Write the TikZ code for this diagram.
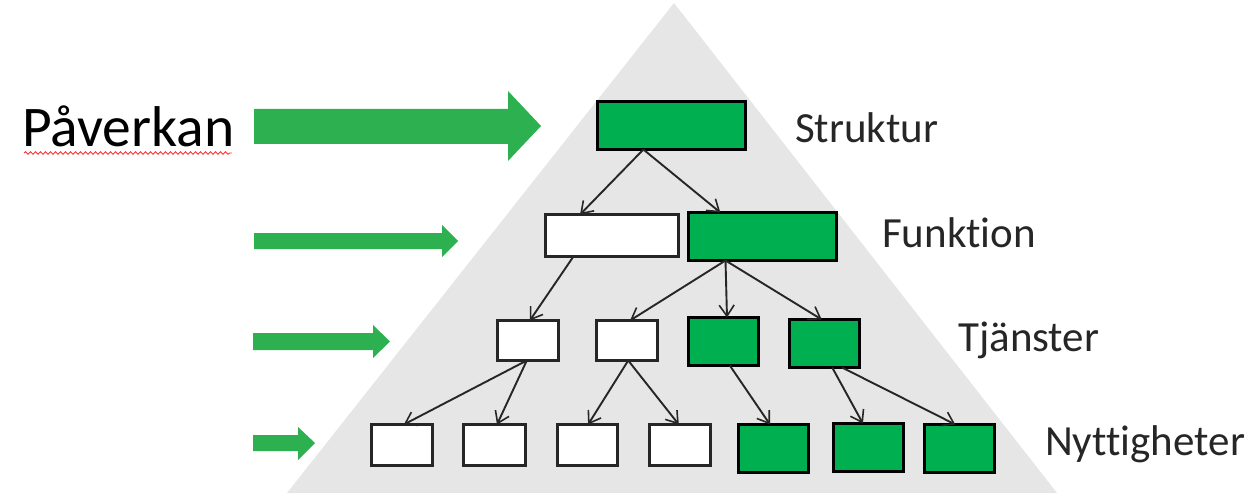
\documentclass[tikz,border=0pt]{standalone}
\usepackage{fontspec}
\setmainfont{Carlito}[Ligatures={NoCommon}]
\usetikzlibrary{arrows.meta,calc,decorations.pathmorphing}
\definecolor{pyramidgray}{HTML}{E7E6E6}
\definecolor{boxgreen}{HTML}{00B050}
\definecolor{arrowgreen}{RGB}{44,176,80}
\definecolor{inkgray}{HTML}{262626}
\tikzset{
  box/.style={rectangle, inner sep=0pt, outer sep=0pt},
  openbox/.style={box, draw=inkgray, line width=2.4pt, fill=white},
  greenbox/.style={box, draw=black, line width=3pt, fill=boxgreen},
  link/.style={draw=inkgray, line width=1.9pt, -{Straight Barb[length=11pt,width=15pt,line width=1.6pt]}},
  levellabel/.style={inner sep=0pt, anchor=base west, text=inkgray, font=\fontsize{43}{50}\selectfont},
  blockarrow/.style={fill=arrowgreen}
}
\begin{document}
\begin{tikzpicture}[x=1pt,y=-1pt]
\useasboundingbox (0,0) rectangle (1260,497);

% pyramid background
\fill[pyramidgray] (674,3) -- (1057,493) -- (287,493) -- cycle;

% heading with spell-check underline
\node[inner sep=0pt, anchor=base west, text=black, font=\fontsize{57.5}{64}\selectfont] (paverkan) at (22,147) {Påverkan};
\draw[red!80!white, line width=0.9pt, decorate, decoration={snake, segment length=5pt, amplitude=1.3pt}] (24,153) -- (232,153);

% influence arrows
\fill[blockarrow] (254,109) -- (508,109) -- (508,91) -- (541,126) -- (508,161) -- (508,144) -- (254,144) -- cycle;
\fill[blockarrow] (254,233) -- (442,233) -- (442,225) -- (458,241) -- (442,257) -- (442,249) -- (254,249) -- cycle;
\fill[blockarrow] (253,333) -- (373,333) -- (373,325) -- (390,341.5) -- (373,358) -- (373,350) -- (253,350) -- cycle;
\fill[blockarrow] (253,435) -- (298,435) -- (298,427) -- (315,443) -- (298,460) -- (298,451) -- (253,451) -- cycle;

% level 1
\node[greenbox, minimum width=148pt, minimum height=48pt] (s) at (671.5,125.5) {};
% level 2
\node[openbox, minimum width=133pt, minimum height=42pt] (f1) at (612,235.5) {};
\node[greenbox, minimum width=148pt, minimum height=48pt] (f2) at (762.5,236.5) {};
% level 3
\node[openbox, minimum width=61pt, minimum height=40pt] (t1) at (528,340.5) {};
\node[openbox, minimum width=61pt, minimum height=40pt] (t2) at (627,340.5) {};
\node[greenbox, minimum width=70pt, minimum height=48pt] (t3) at (723.5,341.5) {};
\node[greenbox, minimum width=70pt, minimum height=48pt] (t4) at (824.5,343.5) {};
% level 4
\node[openbox, minimum width=61pt, minimum height=41pt] (n1) at (402,445) {};
\node[openbox, minimum width=62pt, minimum height=41pt] (n2) at (494.5,445) {};
\node[openbox, minimum width=60pt, minimum height=41pt] (n3) at (587.5,445) {};
\node[openbox, minimum width=61pt, minimum height=41pt] (n4) at (680,445) {};
\node[greenbox, minimum width=70pt, minimum height=48pt] (n5) at (773.5,448.5) {};
\node[greenbox, minimum width=70pt, minimum height=48pt] (n6) at (868.5,447.5) {};
\node[greenbox, minimum width=70pt, minimum height=48pt] (n7) at (959.5,448.5) {};

% connectors
\draw[link] ($(s.south west)!0.31!(s.south east)$) -- ($(f1.north west)!0.26!(f1.north east)$);
\draw[link] ($(s.south west)!0.31!(s.south east)$) -- ($(f2.north west)!0.215!(f2.north east)$);
\draw[link] ($(f1.south west)!0.21!(f1.south east)$) -- ($(t1.north west)!0.53!(t1.north east)$);
\draw[link] ($(f2.south west)!0.25!(f2.south east)$) -- ($(t2.north west)!0.55!(t2.north east)$);
\draw[link] ($(f2.south west)!0.25!(f2.south east)$) -- ($(t3.north west)!0.55!(t3.north east)$);
\draw[link] ($(f2.south west)!0.25!(f2.south east)$) -- ($(t4.north west)!0.46!(t4.north east)$);
\draw[link] ($(t1.south west)!0.48!(t1.south east)$) -- ($(n1.north west)!0.53!(n1.north east)$);
\draw[link] ($(t1.south west)!0.48!(t1.south east)$) -- ($(n2.north west)!0.54!(n2.north east)$);
\draw[link] ($(t2.south west)!0.52!(t2.south east)$) -- ($(n3.north west)!0.51!(n3.north east)$);
\draw[link] ($(t2.south west)!0.52!(t2.south east)$) -- ($(n4.north west)!0.48!(n4.north east)$);
\draw[link] ($(t3.south west)!0.59!(t3.south east)$) -- ($(n5.north west)!0.45!(n5.north east)$);
\draw[link] ($(t4.south west)!0.61!(t4.south east)$) -- ($(n6.north west)!0.42!(n6.north east)$);
\draw[link] ($(t4.south west)!0.75!(t4.south east)$) -- ($(n7.north west)!0.44!(n7.north east)$);

% level labels
\node[levellabel] (struktur) at (795,143) {Struktur};
\node[levellabel] (funktion) at (882,247) {Funktion};
\node[levellabel] (tjanster) at (958,351) {Tjänster};
\node[levellabel] (nytta) at (1045,455) {Nyttigheter};
\end{tikzpicture}
\end{document}
